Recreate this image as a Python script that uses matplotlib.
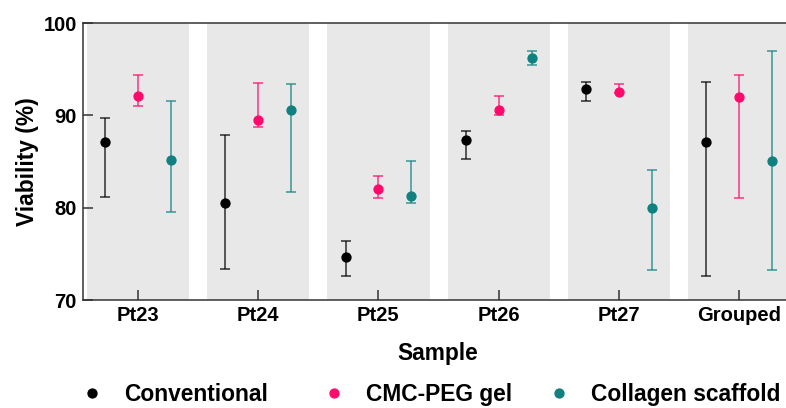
import numpy as np
import matplotlib.pyplot as plt
from matplotlib.lines import Line2D

plt.rcParams['font.family'] = ['Liberation Sans', 'DejaVu Sans']
plt.rcParams['font.weight'] = 'bold'

# data
samples = ["Pt23", "Pt24", "Pt25", "Pt26", "Pt27", "Grouped"]
groups = ["Conventional", "CMC-PEG gel", "Collagen scaffold"]
colors = ["#000000", "#ff0a6c", "#118080"]

conv_mean = [87.1, 80.5, 74.7, 87.35, 92.9, 87.1]
conv_low = [81.2, 73.4, 72.6, 85.3, 91.5, 72.6]
conv_high = [89.7, 87.9, 76.4, 88.35, 93.6, 93.6]

gel_mean = [92.1, 89.5, 82.05, 90.6, 92.55, 91.95]
gel_low = [91.0, 88.75, 81.0, 90.0, 92.45, 81.0]
gel_high = [94.4, 93.55, 83.45, 92.1, 93.4, 94.4]

col_mean = [85.2, 90.6, 81.3, 96.2, 80.0, 85.1]
col_low = [79.5, 81.7, 80.5, 95.4, 73.2, 73.2]
col_high = [91.6, 93.35, 85.1, 97.0, 84.1, 96.95]

means = [conv_mean, gel_mean, col_mean]
lows = [conv_low, gel_low, col_low]
highs = [conv_high, gel_high, col_high]
offsets = [-0.273, 0.0, 0.273]

fig = plt.figure(figsize=(7.86, 4.08), dpi=100)
ax = fig.add_axes([0.1056, 0.2647, 0.8944, 0.6789])

x = np.arange(len(samples))

# grey bands behind each sample
for xi in x:
    ax.axvspan(xi - 0.425, xi + 0.425, color="#e8e8e8", zorder=0, lw=0)

for m, lo, hi, off, c in zip(means, lows, highs, offsets, colors):
    m = np.array(m)
    err = [m - np.array(lo), np.array(hi) - m]
    ax.errorbar(x + off, m, yerr=err, fmt="none", ecolor=c, elinewidth=1.1,
                capsize=3.3, capthick=1.1, alpha=0.8, zorder=2)
    ax.plot(x + off, m, "o", color=c, markersize=6.4, zorder=3)

ax.set_xlim(-0.455, 5.388)
ax.set_ylim(70, 100)
ax.set_yticks([70, 80, 90, 100])
ax.set_xticks(x)
ax.set_xticklabels(samples)

for s in ["left", "top", "bottom"]:
    ax.spines[s].set_color("#333333")
    ax.spines[s].set_linewidth(1.1)
ax.spines["right"].set_visible(False)
ax.tick_params(axis="both", direction="in", length=7.5, width=1.1, color="#333333",
               labelsize=14.5, pad=4.5)

ax.set_ylabel("Viability (%)", fontsize=16.4, fontweight="bold")
ax.set_xlabel("Sample", fontsize=16.4, fontweight="bold")
ax.yaxis.set_label_coords(-0.063, 0.5)
ax.xaxis.set_label_coords(0.505, -0.152)

# one legend entry per group, placed like the original
legend_x = [0.1025, 0.4104, 0.6967]
for g, c, lx in zip(groups, colors, legend_x):
    h = Line2D([], [], marker="o", ls="none", color=c, markersize=6.4)
    fig.legend([h], [g], loc="center left", bbox_to_anchor=(lx, 0.034),
               frameon=False, fontsize=16.4, handlelength=1.0, handletextpad=0.92,
               borderpad=0, borderaxespad=0)

fig.savefig("out.png", dpi=100)
